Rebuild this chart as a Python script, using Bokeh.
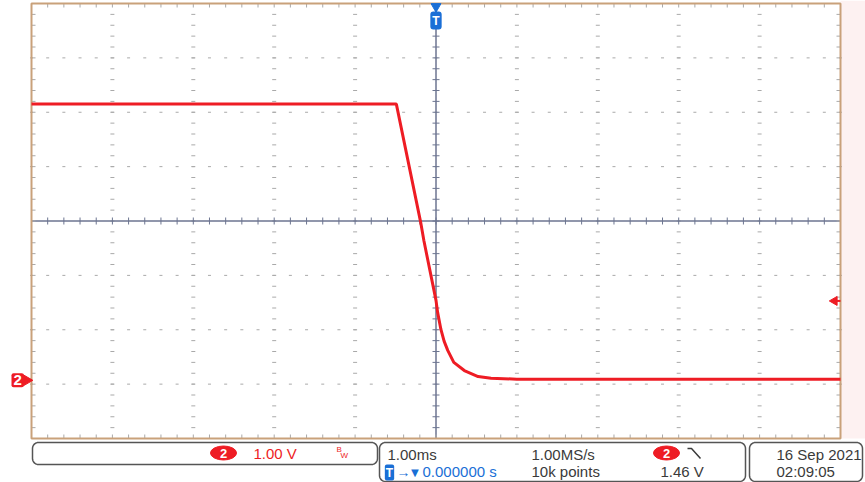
import numpy as np
from bokeh.plotting import figure
from bokeh.models import Range1d, Label
from bokeh.embed import file_html
from bokeh.resources import INLINE

# ---------------- data ----------------
time_ms = [-5.0, -0.49, -0.19, -0.15, 0.0, 0.02, 0.06, 0.10, 0.145, 0.22, 0.35, 0.52, 0.68, 1.0, 5.0]
ch2_volts = [5.08, 5.08, 2.91, 2.57, 1.47, 1.25, 0.94, 0.72, 0.55, 0.33, 0.18, 0.07, 0.04, 0.02, 0.02]

time_per_div_ms = 1.0
volts_per_div = 1.0
ch2_ground_div = -2.93      # ground marker position, divisions from centre
trigger_time_ms = 0.0
trigger_level_v = 1.46
n_hdiv = 10
n_vdiv = 8
n_sub = 5

ch_label = "2"
status_scale = "1.00 V"
status_timebase = "1.00ms"
status_rate = "1.00MS/s"
status_points = "10k points"
status_trig_level = "1.46 V"
status_trig_pos = "0.000000 s"
status_date = "16 Sep  2021"
status_time = "02:09:05"

# ---------------- layout / styles ----------------
W, H = 865, 482
FL, FR, FT, FB = 31, 840, 3, 438          # graticule box in page pixels
RED = "#ee1c24"
BLUE = "#1a6fd6"
TXT = "#3a3a3a"
FONT = "Liberation Sans"
GRID = "#a9a9a9"
AXIS = "#6c7590"
FRAME = "#c9a17a"

v_center = -ch2_ground_div * volts_per_div
x_lo, x_hi = -n_hdiv / 2 * time_per_div_ms, n_hdiv / 2 * time_per_div_ms
y_lo, y_hi = v_center - n_vdiv / 2 * volts_per_div, v_center + n_vdiv / 2 * volts_per_div
sx = (FR - FL) / (x_hi - x_lo)     # px per ms
sy = (FB - FT) / (y_hi - y_lo)     # px per V

p = figure(width=W, height=H,
           x_range=Range1d(x_lo - FL / sx, x_hi + (W - FR) / sx),
           y_range=Range1d(y_lo - (H - FB) / sy, y_hi + FT / sy),
           x_axis_type=None, y_axis_type=None, toolbar_location=None, output_backend="svg",
           min_border=0)
p.extra_x_ranges = {"px": Range1d(0, W)}
p.extra_y_ranges = {"py": Range1d(H, 0)}
p.grid.visible = False
p.outline_line_color = None
p.background_fill_color = "white"
p.border_fill_color = "white"

PX = dict(x_range_name="px", y_range_name="py")

# pale strip right of the graticule
p.quad(left=[FR], right=[W], top=[0], bottom=[FB], fill_color="#fdf1f1", line_color=None, **PX)

# graticule dots
x_minor = np.arange(x_lo, x_hi + 1e-9, time_per_div_ms / n_sub)
y_minor = np.arange(y_lo, y_hi + 1e-9, volts_per_div / n_sub)
x_major = [x_lo + k * time_per_div_ms for k in range(1, n_hdiv) if k != n_hdiv // 2]
y_major = [y_lo + k * volts_per_div for k in range(1, n_vdiv) if k != n_vdiv // 2]

gx = np.repeat(x_major, len(y_minor)); gy = np.tile(y_minor, len(x_major))
p.scatter(gx, gy, marker="dash", size=4, line_color=GRID, line_width=1)
hx = np.tile(x_minor, len(y_major)); hy = np.repeat(y_major, len(x_minor))
p.scatter(hx, hy, marker="dash", size=3, line_color=GRID, line_width=1)

# centre lines with ticks
p.line([x_lo, x_hi], [v_center, v_center], line_color=AXIS, line_width=1.5)
p.line([0, 0], [y_lo, y_hi], line_color=AXIS, line_width=1.5)
p.scatter(x_minor, [v_center] * len(x_minor), marker="dash", angle=np.pi / 2, size=7, line_color=AXIS, line_width=1)
p.scatter([0] * len(y_minor), y_minor, marker="dash", size=7, line_color=AXIS, line_width=1)

# edge ticks (pointing inwards)
tx, ty = 4 / sx, 4 / sy
p.segment(x_minor, [y_hi] * len(x_minor), x_minor, [y_hi - ty] * len(x_minor), line_color=GRID, line_width=1)
p.segment(x_minor, [y_lo] * len(x_minor), x_minor, [y_lo + ty] * len(x_minor), line_color=GRID, line_width=1)
p.segment([x_lo] * len(y_minor), y_minor, [x_lo + tx] * len(y_minor), y_minor, line_color=GRID, line_width=1)
p.segment([x_hi] * len(y_minor), y_minor, [x_hi - tx] * len(y_minor), y_minor, line_color=GRID, line_width=1)

# graticule border
p.quad(left=[x_lo], right=[x_hi], bottom=[y_lo], top=[y_hi], fill_color=None, line_color=FRAME, line_width=2)

# trace
p.line(time_ms, ch2_volts, line_color=RED, line_width=3)

# trigger level marker (right edge)
p.scatter([x_hi - 6 / sx], [trigger_level_v], marker="triangle", angle=np.pi / 2, size=9, fill_color=RED, line_color=RED)
p.line([x_hi - 6 / sx, x_hi], [trigger_level_v, trigger_level_v], line_color=RED, line_width=2)

# trigger position marker (top)
p.scatter([trigger_time_ms], [y_hi - 3 / sy], marker="inverted_triangle", size=10, fill_color=BLUE, line_color=BLUE)
p.add_layout(Label(x=trigger_time_ms, y=y_hi - 17 / sy, text="T", text_align="center", text_baseline="middle",
                   text_color="white", text_font=FONT, text_font_size="12px", text_font_style="bold",
                   background_fill_color=BLUE, border_radius=3, padding=2))

# ground marker (left)
p.scatter([26], [0.0], marker="triangle", angle=-np.pi / 2, size=11, fill_color=RED, line_color=RED,
          x_range_name="px")
p.add_layout(Label(x=11, y=0.0, text=ch_label, text_align="left", text_baseline="middle",
                   text_color="white", text_font=FONT, text_font_size="15px", text_font_style="bold",
                   background_fill_color=RED, border_radius=2, padding=2, x_range_name="px"))

# ---------------- status bar ----------------
def rounded_rect(x0, y0, x1, y1, r, n=10):
    xs, ys = [], []
    for cx, cy, a0, a1 in [(x1 - r, y0 + r, -90, 0), (x1 - r, y1 - r, 0, 90),
                           (x0 + r, y1 - r, 90, 180), (x0 + r, y0 + r, 180, 270)]:
        t = np.radians(np.linspace(a0, a1, n))
        xs += list(cx + r * np.cos(t)); ys += list(cy + r * np.sin(t))
    return xs, ys


for box in [(32, 442, 377, 464), (379, 442, 745, 481), (749, 442, 862, 481)]:
    bx, by = rounded_rect(*box, 6)
    p.patch(bx, by, fill_color="white", line_color="#555555", line_width=1.5, **PX)

for cx in (223, 666):
    p.ellipse([cx], [452.5], width=26, height=14, fill_color=RED, line_color=RED, **PX)


def lab(x, y, text, color=TXT, size="15px", align="left", bold=False, **kw):
    p.add_layout(Label(x=x, y=y, text=text, text_color=color, text_font=FONT, text_font_size=size,
                       text_align=align, text_baseline="middle",
                       text_font_style="bold" if bold else "normal", **PX, **kw))


L1, L2, LB = 454, 471, 452.5
lab(223, LB, ch_label, color="white", size="13px", align="center", bold=True)
lab(666, LB, ch_label, color="white", size="13px", align="center", bold=True)
lab(253, LB, status_scale, color=RED)
lab(336, 449, "B", color=RED, size="8px")
lab(340, 455, "W", color=RED, size="8px")

lab(387, L1, status_timebase)
lab(531, L1, status_rate)
p.line([687, 691, 700], [448, 448, 458], line_color=TXT, line_width=1.5, **PX)

lab(389, L2 + 1, "T", color="white", size="12px", align="center", bold=True,
    background_fill_color=BLUE, border_radius=2, padding=1)
lab(396, L2, "\u2192", color=BLUE, size="14px", bold=True)
lab(408, L2 + 1, "\u25bc", color=BLUE, size="13px")
lab(422, L2, status_trig_pos, color=BLUE)
lab(531, L2, status_points)
lab(660, L2, status_trig_level)

lab(776, L1, status_date)
lab(776, L2, status_time)

open("out.html", "w").write(file_html(p, INLINE))
